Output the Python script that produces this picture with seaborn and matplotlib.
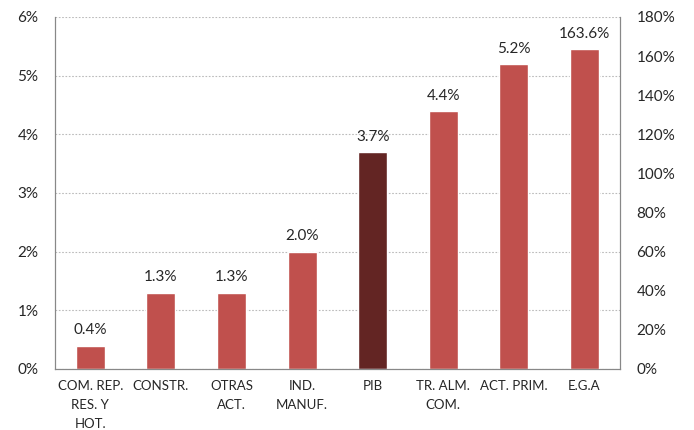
import numpy as np
import pandas as pd
import matplotlib
matplotlib.use('Agg')
import matplotlib.pyplot as plt
import seaborn as sns

# ── Data ─────────────────────────────────────────────────────────────────────
categories = ['COM. REP.\nRES. Y\nHOT.', 'CONSTR.', 'OTRAS\nACT.', 'IND.\nMANUF.',
              'PIB', 'TR. ALM.\nCOM.', 'ACT. PRIM.', 'E.G.A']
left_values = [0.4, 1.3, 1.3, 2.0, 3.7, 4.4, 5.2, np.nan]     # left axis (%)
right_values = [np.nan] * 7 + [163.6]                        # right axis (%)
labels = ['0.4%', '1.3%', '1.3%', '2.0%', '3.7%', '4.4%', '5.2%', '163.6%']

red = '#C0504D'
dark = '#632523'
colors = [red, red, red, red, dark, red, red, red]

sns.set_theme(style='white')
plt.rcParams['font.family'] = ['Lato', 'DejaVu Sans']

fig = plt.figure(figsize=(6.94, 4.30), dpi=100)
ax = fig.add_axes([0.0793, 0.1419, 0.8137, 0.8186])
ax2 = ax.twinx()

df = pd.DataFrame({'cat': categories, 'left': left_values, 'right': right_values})

sns.barplot(data=df, x='cat', y='left', order=categories, palette=colors,
            hue='cat', legend=False, width=0.41, ax=ax, saturation=1)
sns.barplot(data=df, x='cat', y='right', order=categories, palette=colors,
            hue='cat', legend=False, width=0.41, ax=ax2, saturation=1)

ax.set_ylim(0, 6)
ax2.set_ylim(0, 180)
ax.set_yticks(np.arange(0, 7, 1))
ax.set_yticklabels([f'{v}%' for v in range(0, 7)], fontsize=11)
ax2.set_yticks(np.arange(0, 181, 20))
ax2.set_yticklabels([f'{v}%' for v in range(0, 181, 20)], fontsize=11)
ax.yaxis.grid(True, linestyle=(0, (1.5, 1.5)), color='#BBBBBB', linewidth=0.8)
ax.set_axisbelow(True)
ax.set_xlabel('')
ax.set_ylabel('')
ax2.set_ylabel('')
ax.tick_params(axis='x', labelsize=9.5, length=0, pad=8)
for t in ax.get_xticklabels():
    t.set_linespacing(1.7)
ax.tick_params(axis='y', length=0, pad=12)
ax2.tick_params(axis='y', length=0, pad=12)

for a in (ax, ax2):
    for s in ['left', 'right', 'bottom']:
        a.spines[s].set_color('#888888')
        a.spines[s].set_linewidth(0.8)
    a.spines['top'].set_visible(False)

# data labels
for i, (lv, rv, lab) in enumerate(zip(left_values, right_values, labels)):
    if not np.isnan(lv):
        ax.annotate(lab, (i, lv), xytext=(0, 6), textcoords='offset points',
                    ha='center', va='bottom', fontsize=11)
    else:
        ax2.annotate(lab, (i, rv), xytext=(0, 6), textcoords='offset points',
                     ha='center', va='bottom', fontsize=11)

ax.set_xlim(-0.5, len(categories) - 0.5)

fig.savefig('out.png', dpi=100)
